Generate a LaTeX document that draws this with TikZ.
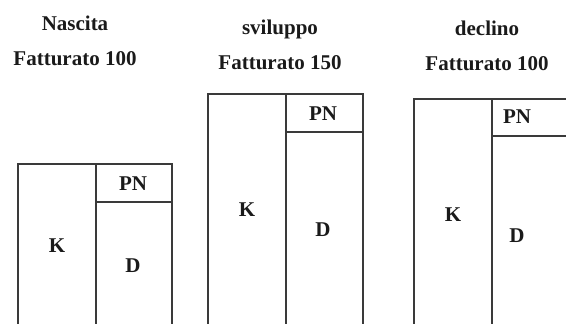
\documentclass[tikz,border=0pt]{standalone}
\usepackage{fontspec}
\setmainfont{Liberation Serif}
\usepackage{xcolor}
\usepackage{tikz}
\usetikzlibrary{positioning}
\definecolor{Ink}{HTML}{1A1A1A}
\definecolor{Rule}{HTML}{3A3A3A}

\begin{document}
\begin{tikzpicture}[x=0.5pt,y=0.5pt]
  \path[use as bounding box] (0,0) rectangle (566,324);
  \clip (0,0) rectangle (566,324);
  \tikzset{
    stLabel/.style={
      anchor=base, inner sep=0pt, font=\fontsize{10.5}{12}\selectfont\bfseries,
      text=Ink
    },
    stRule/.style={
      draw=Rule, line width=.8pt, line cap=rect
    }
  }

  % nascita
  \node[stLabel] (nasTitle) at (75,293) {Nascita};
  \node[stLabel] (nasFatt) at (75,258) {Fatturato 100};
  \draw[stRule] (18,0) -- (18,160) -- (172,160) -- (172,0);
  \draw[stRule] (96,0) -- (96,160);
  \draw[stRule] (96,122) -- (172,122);
  \node[stLabel] (nasK) at (57,71) {K};
  \node[stLabel] (nasD) at (133,51) {D};
  \node[stLabel] (nasPN) at (133,133) {PN};

  % sviluppo
  \node[stLabel] (svTitle) at (280,289) {sviluppo};
  \node[stLabel] (svFatt) at (280,254) {Fatturato 150};
  \draw[stRule] (208,0) -- (208,230) -- (363,230) -- (363,0);
  \draw[stRule] (286,0) -- (286,230);
  \draw[stRule] (286,192) -- (363,192);
  \node[stLabel] (svK) at (247,107) {K};
  \node[stLabel] (svD) at (323,87) {D};
  \node[stLabel] (svPN) at (323,203) {PN};

  % declino
  \node[stLabel] (decTitle) at (487,288) {declino};
  \node[stLabel] (decFatt) at (487,253) {Fatturato 100};
  \draw[stRule] (414,0) -- (414,225) -- (570,225);
  \draw[stRule] (492,0) -- (492,225);
  \draw[stRule] (492,188) -- (570,188);
  \node[stLabel] (decK) at (453,102) {K};
  \node[stLabel] (decD) at (517,81) {D};
  \node[stLabel] (decPN) at (517,200) {PN};
\end{tikzpicture}
\end{document}
